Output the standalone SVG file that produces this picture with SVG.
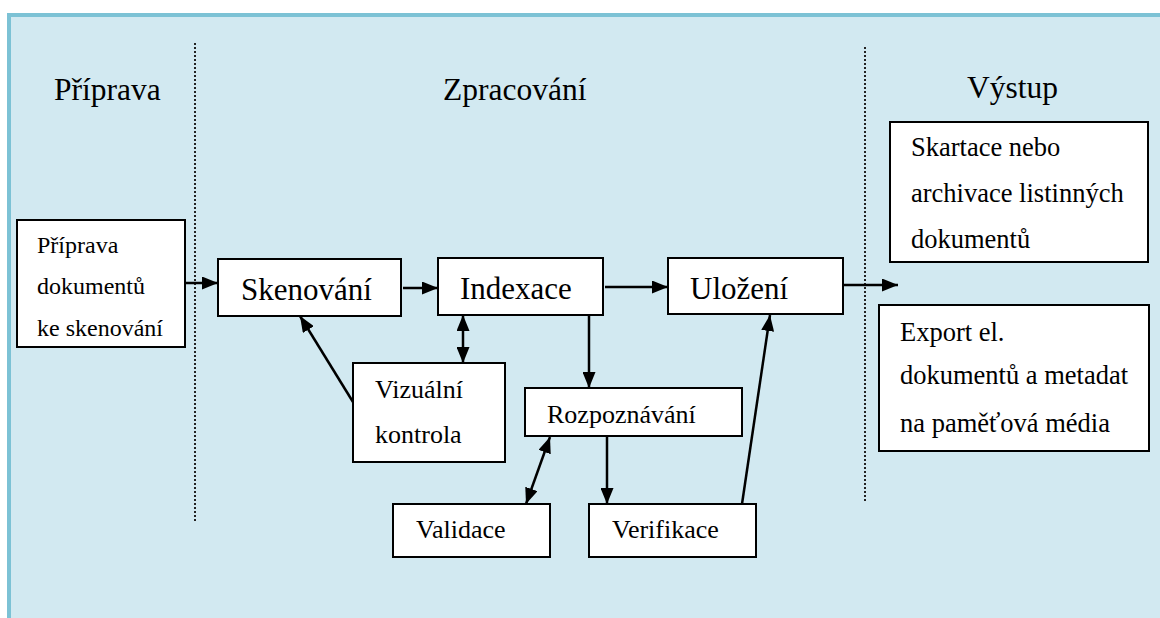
<svg xmlns="http://www.w3.org/2000/svg" width="1160" height="618" viewBox="0 0 1160 618">
<defs>
<style>
.bx{fill:#ffffff;stroke:#000;stroke-width:2}
.t{font-family:"Liberation Serif","Times New Roman",serif;fill:#000}
.h{font-size:31.5px}
.big{font-size:31px}
.mid{font-size:26px}
.sm{font-size:24px}
.rt{font-size:26.5px}
.c{fill:none;stroke:#000;stroke-width:2.5}
.dot{stroke:#222;stroke-width:2;stroke-dasharray:2 2}
</style>
<marker id="ah" markerUnits="userSpaceOnUse" markerWidth="16" markerHeight="13" refX="16" refY="6.5" orient="auto-start-reverse">
<path d="M0,0 L16,6.5 L0,13 Z" fill="#000"/>
</marker>
</defs>
<rect x="0" y="0" width="1160" height="618" fill="#ffffff"/>
<rect x="7" y="13" width="1153" height="605" fill="#d2e9f1"/>
<line x1="9" y1="13" x2="9" y2="618" stroke="#7cc2d5" stroke-width="4"/>
<line x1="7" y1="15" x2="1160" y2="15" stroke="#7cc2d5" stroke-width="4"/>

<g id="dividers">
<line class="dot" x1="195" y1="43" x2="195" y2="523"/>
<line class="dot" x1="865" y1="47" x2="865" y2="502"/>
</g>

<g id="headings">
<text class="t h" x="54" y="100">Příprava</text>
<text class="t h" x="443" y="100">Zpracování</text>
<text class="t h" x="967" y="98">Výstup</text>
</g>

<g id="node-priprava">
<rect class="bx" x="17" y="220" width="168" height="127"/>
<text class="t sm" x="37" y="253">Příprava</text>
<text class="t sm" x="37" y="294">dokumentů</text>
<text class="t sm" x="37" y="336">ke skenování</text>
</g>
<g id="node-skenovani">
<rect class="bx" x="218" y="259" width="183" height="57"/>
<text class="t big" x="241" y="300">Skenování</text>
</g>
<g id="node-indexace">
<rect class="bx" x="438" y="258" width="165" height="57"/>
<text class="t big" x="460" y="299">Indexace</text>
</g>
<g id="node-ulozeni">
<rect class="bx" x="668" y="258" width="175" height="56"/>
<text class="t big" x="690" y="299">Uložení</text>
</g>
<g id="node-vizualni">
<rect class="bx" x="353" y="363" width="152" height="99"/>
<text class="t mid" x="375" y="398">Vizuální</text>
<text class="t mid" x="375" y="443">kontrola</text>
</g>
<g id="node-rozpoznavani">
<rect class="bx" x="525" y="388" width="217" height="48"/>
<text class="t mid" x="547" y="423">Rozpoznávání</text>
</g>
<g id="node-validace">
<rect class="bx" x="393" y="504" width="157" height="53"/>
<text class="t mid" x="416" y="538">Validace</text>
</g>
<g id="node-verifikace">
<rect class="bx" x="589" y="504" width="167" height="53"/>
<text class="t mid" x="612" y="538">Verifikace</text>
</g>
<g id="node-skartace">
<rect class="bx" x="890" y="122" width="258" height="140"/>
<text class="t rt" x="911" y="156">Skartace nebo</text>
<text class="t rt" x="911" y="202">archivace listinných</text>
<text class="t rt" x="911" y="248">dokumentů</text>
</g>
<g id="node-export">
<rect class="bx" x="879" y="305" width="270" height="146"/>
<text class="t rt" x="900" y="341">Export el.</text>
<text class="t rt" x="900" y="384">dokumentů a metadat</text>
<text class="t rt" x="900" y="432">na paměťová média</text>
</g>

<g id="connectors">
<line class="c" x1="185" y1="283" x2="218" y2="283" marker-end="url(#ah)"/>
<line class="c" x1="403" y1="288" x2="438" y2="288" marker-end="url(#ah)"/>
<line class="c" x1="605" y1="287" x2="668" y2="287" marker-end="url(#ah)"/>
<line class="c" x1="843" y1="285" x2="898" y2="285" marker-end="url(#ah)"/>
<line class="c" x1="353" y1="402" x2="300" y2="316" marker-end="url(#ah)"/>
<line class="c" x1="463" y1="315" x2="463" y2="363" marker-start="url(#ah)" marker-end="url(#ah)"/>
<line class="c" x1="589" y1="315" x2="589" y2="388" marker-end="url(#ah)"/>
<line class="c" x1="550" y1="437" x2="526" y2="504" marker-start="url(#ah)" marker-end="url(#ah)"/>
<line class="c" x1="607" y1="436" x2="607" y2="504" marker-end="url(#ah)"/>
<line class="c" x1="742" y1="504" x2="770" y2="315" marker-end="url(#ah)"/>
</g>
</svg>
